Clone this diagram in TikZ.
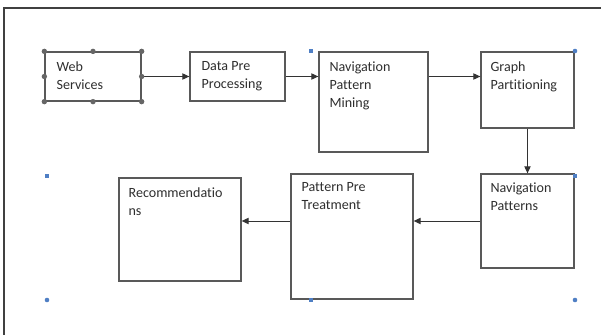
\documentclass[tikz,border=0pt]{standalone}
\usepackage{fontspec}
\setmainfont{Carlito}[Ligatures=NoCommon]
\usetikzlibrary{positioning,arrows.meta}

\definecolor{handleblue}{HTML}{4F7FC4}

\begin{document}
\begin{tikzpicture}[x=0.025cm,y=-0.025cm,
	box/.style={rectangle,draw=black!65,line width=0.9pt,inner sep=0pt},
	lbl/.style={inner sep=0pt,align=left,text=black!82,font=\fontsize{10}{13}\selectfont},
	flow/.style={draw=black!80,line width=0.7pt,-{Triangle[length=5pt,width=4.5pt]}},
	grip/.style={fill=black!60},
	sel/.style={fill=handleblue}]

	\useasboundingbox (0,0) rectangle (601,335);

	% page edge
	\draw[black!75,line width=1pt] (601,8) -- (4,8) -- (4,335);

	\node[box,minimum width=2.4cm,minimum height=1.225cm] (web) at (93,76.5) {};
	\node[box,minimum width=2.375cm,minimum height=1.225cm] (data) at (237.5,76.5) {};
	\node[box,minimum width=2.725cm,minimum height=2.5cm] (mining) at (373.5,102) {};
	\node[box,minimum width=2.325cm,minimum height=1.9cm] (graph) at (527.5,90) {};
	\node[box,minimum width=2.325cm,minimum height=2.35cm] (navp) at (527.5,221) {};
	\node[box,minimum width=3.05cm,minimum height=3.125cm] (treat) at (352,236.5) {};
	\node[box,minimum width=3.05cm,minimum height=2.575cm] (rec) at (180,229.5) {};

	\node[lbl,below right=6.9pt and 8.5pt of web.north west] (web-t) {Web\\Services};
	\node[lbl,below right=6.9pt and 8.5pt of data.north west] (data-t) {Data Pre\\Processing};
	\node[lbl,below right=6.9pt and 7.8pt of mining.north west] (mining-t) {Navigation\\Pattern\\Mining};
	\node[lbl,below right=6.9pt and 7.1pt of graph.north west] (graph-t) {Graph\\Partitioning};
	\node[lbl,below right=6.4pt and 7.1pt of navp.north west] (navp-t) {Navigation\\Patterns};
	\node[lbl,below right=6.4pt and 7.8pt of treat.north west] (treat-t) {Pattern Pre\\Treatment};
	\node[lbl,below right=7pt and 7.1pt of rec.north west] (rec-t) {Recommendatio\\ns};

	\draw[flow] (web.east) -- (data.west);
	\draw[flow] (data.east) -- (data.east -| mining.west);
	\draw[flow] (mining.east |- data.east) -- (graph.west |- data.east);
	\draw[flow] (graph.south) -- (navp.north);
	\draw[flow] (navp.west) -- (navp.west -| treat.east);
	\draw[flow] (treat.west |- navp.west) -- (rec.east |- navp.west);

	% grips on the selected box
	\fill[grip] (web.north west) circle (2.7);
	\fill[grip] (web.north) circle (2.7);
	\fill[grip] (web.north east) circle (2.7);
	\fill[grip] (web.west) circle (2.7);
	\fill[grip] (web.east) circle (2.7);
	\fill[grip] (web.south west) circle (2.7);
	\fill[grip] (web.south) circle (2.7);
	\fill[grip] (web.south east) circle (2.7);

	% canvas handles
	\fill[sel] (309,49) rectangle (313,53);
	\fill[sel] (575,51) circle (2.3);
	\fill[sel] (573,174) rectangle (577,178);
	\fill[sel] (45,174) rectangle (49,178);
	\fill[sel] (47,300) circle (2.3);
	\fill[sel] (309,298) rectangle (313,302);
	\fill[sel] (575,300) circle (2.3);
\end{tikzpicture}
\end{document}
